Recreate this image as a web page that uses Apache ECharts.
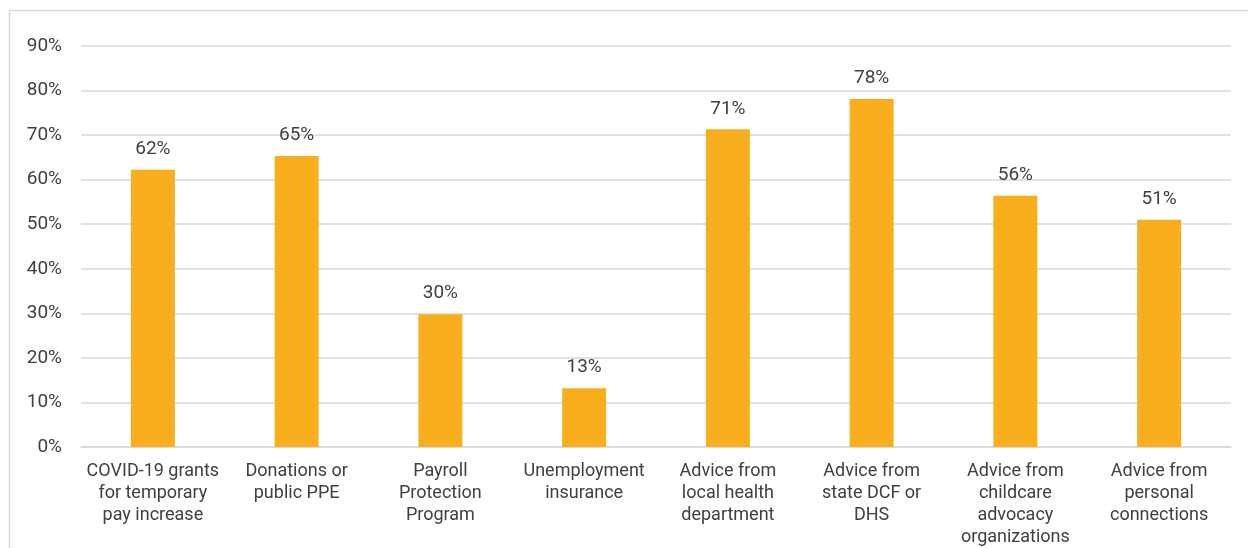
<!DOCTYPE html>
<html><head><meta charset="utf-8">
<script src="https://cdn.jsdelivr.net/npm/echarts@6/dist/echarts.min.js"></script>
<style>html,body{margin:0;padding:0;background:#fff}#c{width:1248px;height:548px}</style>
</head><body><div id="c"></div>
<script>
const categories = [
  "COVID-19 grants\nfor temporary\npay increase",
  "Donations or\npublic PPE",
  "Payroll\nProtection\nProgram",
  "Unemployment\ninsurance",
  "Advice from\nlocal health\ndepartment",
  "Advice from\nstate DCF or\nDHS",
  "Advice from\nchildcare\nadvocacy\norganizations",
  "Advice from\npersonal\nconnections"
];
const values = [62.2, 65.3, 29.8, 13.2, 71.3, 78.1, 56.4, 51.0];
const yTicks = [0, 10, 20, 30, 40, 50, 60, 70, 80, 90];

const chart = echarts.init(document.getElementById('c'), null, {renderer: 'canvas'});
chart.setOption({
  animation: false,
  backgroundColor: '#ffffff',
  textStyle: {fontFamily: 'Roboto'},
  graphic: [{
    type: 'rect', left: 7, top: 8, silent: true,
    shape: {width: 1260, height: 560},
    style: {fill: 'none', stroke: '#d9d9d9', lineWidth: 1.5}
  }],
  grid: {left: 81, right: 17, top: 46, bottom: 101},
  xAxis: {
    type: 'category', data: categories,
    axisLine: {show: true, lineStyle: {color: '#d9d9d9', width: 1.5}},
    axisTick: {show: false},
    axisLabel: {color: '#404040', fontSize: 18, lineHeight: 22, margin: 13, interval: 0, fontFamily: 'Roboto'}
  },
  yAxis: {
    type: 'value', min: yTicks[0], max: yTicks[yTicks.length - 1], interval: 10,
    axisLine: {show: false}, axisTick: {show: false},
    splitLine: {lineStyle: {color: '#d9d9d9', width: 1.5}},
    axisLabel: {color: '#404040', fontSize: 19, margin: 19, formatter: v => v + '%', fontFamily: 'Roboto'}
  },
  series: [{
    type: 'bar', data: values, barWidth: 44,
    itemStyle: {color: '#F9AE1D'},
    label: {show: true, position: 'top', distance: 11, color: '#404040', fontSize: 19, fontFamily: 'Roboto',
      formatter: p => Math.round(p.value) + '%'}
  }]
});
</script></body></html>
